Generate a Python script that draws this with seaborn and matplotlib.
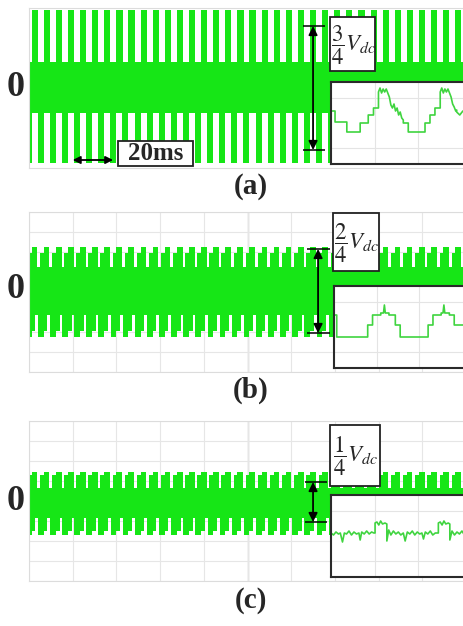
import numpy as np
import pandas as pd
import matplotlib
matplotlib.use("Agg")
import matplotlib.pyplot as plt
import seaborn as sns
from matplotlib.patches import Rectangle

# ---------------- data ----------------
panel_labels = ["(a)", "(b)", "(c)"]
level_labels = [r"$\dfrac{3}{4}V_{dc}$", r"$\dfrac{2}{4}V_{dc}$", r"$\dfrac{1}{4}V_{dc}$"]

# centres of the low-frequency pulses (ms)
pulse_centers_ms = [1.2, 6.7, 12.3, 17.8, 23.4, 28.9, 34.4, 40.0, 45.5, 51.1,
                    56.6, 62.1, 67.7, 73.2, 78.8, 84.3, 89.8, 95.4, 100.9, 106.5,
                    112.0, 117.5, 123.1, 128.6, 134.2, 139.7, 145.2, 150.8, 156.3,
                    161.9, 167.4, 172.9, 178.5, 184.0, 189.6, 195.1]

# envelope levels of the three main waveforms (divisions)
band_top = [1.30, 1.25, 0.65]
band_bottom = [-1.25, -1.15, -0.85]
pulse_top = [3.90, 2.25, 1.45]
pulse_bottom = [-3.75, -2.25, -1.70]
shoulder_top = [1.30, 1.95, 1.30]
shoulder_bottom = [-1.25, -1.95, -1.50]

# level arrows (divisions) and their time position (ms)
arrow_x_ms = [130.0, 132.3, 130.0]
arrow_hi = [3.10, 2.15, 0.95]
arrow_lo = [-3.10, -2.05, -1.05]

# zoomed (inset) waveforms
inset_a_t = [0.0, 1.3, 1.3, 5.1, 5.1, 9.4, 9.4, 12.0, 12.0, 13.7, 13.7, 15.3, 15.3,
             15.8, 16.3, 16.8, 17.3, 17.8, 18.3, 18.8, 19.3, 19.8, 20.3, 20.8, 21.3,
             21.8, 22.3, 22.8, 23.3, 23.3, 24.9, 24.9, 30.3, 30.3, 31.9, 31.9, 33.5,
             33.5, 35.2, 35.2, 35.7, 36.2, 36.7, 37.2, 37.7, 38.2, 38.7, 39.2, 39.7,
             40.2, 40.5, 40.5, 41.5, 42.5, 43.5, 44.8]
inset_a_v = [1.2, 1.2, 0.1, 0.1, -0.9, -0.9, 0.0, 0.0, 0.8, 0.8, 1.5, 1.5, 3.1,
             3.5, 3.0, 3.4, 3.1, 3.4, 3.0, 2.6, 1.8, 1.5, 1.9, 1.2, 1.5,
             0.8, 1.1, 0.5, 0.3, 0.0, 0.0, -0.9, -0.9, 0.0, 0.0, 0.8, 0.8,
             1.5, 1.5, 3.1, 3.5, 3.0, 3.4, 3.1, 3.4, 3.0, 2.6, 1.9, 1.6,
             1.2, 1.3, 1.1, 0.8, 1.2, 0.9, 1.0]

inset_b_t = [0.0, 0.9, 0.9, 11.1, 11.1, 12.7, 12.7, 15.4, 15.4, 16.3, 16.6, 16.9, 18.1,
             18.1, 20.2, 20.2, 21.8, 21.8, 31.0, 31.0, 32.6, 32.6, 35.3, 35.3, 35.9,
             36.2, 36.5, 38.0, 38.0, 39.6, 39.6, 44.8]
inset_b_v = [1.2, 1.2, -1.0, -1.0, 0.2, 0.2, 1.2, 1.2, 1.4, 1.4, 2.2, 1.4, 1.4,
             1.2, 1.2, 0.2, 0.2, -1.0, -1.0, 0.2, 0.2, 1.2, 1.2, 1.4, 1.4,
             2.2, 1.4, 1.4, 1.2, 1.2, 0.2, 0.2]

inset_c_t = [0.0, 0.8, 1.6, 2.4, 3.0, 3.7, 4.3, 5.0, 5.8, 6.6, 7.4, 8.2, 9.0, 9.4,
             9.9, 10.7, 11.5, 12.3, 13.1, 13.8, 14.2, 14.2, 14.8, 15.4, 16.0, 16.6,
             17.4, 18.0, 18.0, 18.6, 19.3, 20.1, 20.9, 21.7, 22.5, 23.3, 23.9, 24.6,
             25.4, 26.2, 27.0, 27.8, 28.6, 29.3, 29.8, 30.4, 31.2, 32.0, 32.8, 33.6,
             34.6, 34.6, 35.2, 35.8, 36.4, 37.0, 37.8, 38.3, 38.3, 39.0, 39.8, 40.6,
             41.4, 42.2, 43.0, 43.8, 44.8]
inset_c_v = [0.3, 0.1, 0.4, 0.2, 0.3, -0.6, 0.3, 0.2, 0.5, 0.1, 0.4, 0.2, 0.3, -0.4,
             0.4, 0.2, 0.5, 0.2, 0.4, 0.3, 0.3, 1.3, 1.4, 1.1, 1.5, 1.2,
             1.3, 1.2, -0.5, 0.6, 0.1, 0.5, 0.2, 0.4, 0.1, 0.3, -0.5, 0.4,
             0.2, 0.5, 0.1, 0.4, 0.2, 0.3, -0.3, 0.4, 0.2, 0.5, 0.1, 0.3,
             0.3, 1.3, 1.4, 1.1, 1.5, 1.2, 1.3, 1.2, -0.4, 0.5, 0.1, 0.4,
             0.2, 0.5, 0.1, 0.4, 0.3]

inset_t = [inset_a_t, inset_b_t, inset_c_t]
inset_v = [inset_a_v, inset_b_v, inset_c_v]

# ---------------- style / layout ----------------
sns.set_style("white")
plt.rcParams['font.family'] = ['Liberation Serif', 'DejaVu Serif']
plt.rcParams['mathtext.fontset'] = 'stix'

GREEN = "#16e616"
LINE_GREEN = "#3fd43f"
W, H = 464, 626
fig = plt.figure(figsize=(W / 100, H / 100), dpi=100)


def px_axes(x0, y0, x1, y1, z=0):
    ax = fig.add_axes([x0 / W, 1 - y1 / H, (x1 - x0) / W, (y1 - y0) / H])
    ax.set_zorder(z)
    return ax


main_boxes = [(29, 8, 466, 168), (29, 212, 466, 372), (29, 421, 466, 581)]
label_boxes = [(330, 17, 375, 71), (333, 213, 379, 271), (330, 425, 380, 486)]
inset_boxes = [(331, 82, 470, 164), (334, 286, 470, 368), (331, 495, 470, 577)]
zero_y = [88, 290, 501]
title_y = [187, 390, 601]
tick_x = [(125.4, 135.5), (127.2, 137.8), (126.3, 136.4)]

pulse_w = [2.8, 2.6, 2.6]
shoulder_w = 3.4

for i in range(3):
    ax = px_axes(*main_boxes[i], z=0)
    ax.set_xlim(0, 200)
    ax.set_ylim(-4, 4)
    ax.set_xticks(np.arange(0, 201, 20))
    ax.set_yticks(np.arange(-4, 5, 1))
    ax.tick_params(length=0, labelbottom=False, labelleft=False)
    for s in ax.spines.values():
        s.set_color("#dcdcdc")
        s.set_linewidth(0.8)
    if i > 0:
        ax.grid(True, color="#e6e6e6", lw=0.8)
        ax.axvline(100, color="#c4c4c4", lw=1.0, zorder=0.5)
    ax.set_axisbelow(True)

    # dense high-frequency band
    ax.fill_between([0, 200], [band_bottom[i]] * 2, [band_top[i]] * 2,
                    color=GREEN, lw=0, zorder=2)
    # low-frequency pulses (with shoulders)
    n = len(pulse_centers_ms)
    ax.bar(pulse_centers_ms, [shoulder_top[i]] * n, width=shoulder_w, bottom=0,
           color=GREEN, lw=0, zorder=2)
    ax.bar(pulse_centers_ms, [shoulder_bottom[i]] * n, width=shoulder_w, bottom=0,
           color=GREEN, lw=0, zorder=2)
    ax.bar(pulse_centers_ms, [pulse_top[i]] * n, width=pulse_w[i], bottom=0,
           color=GREEN, lw=0, zorder=2, align="edge")
    ax.bar(pulse_centers_ms, [pulse_bottom[i]] * n, width=-pulse_w[i], bottom=0,
           color=GREEN, lw=0, zorder=2, align="edge")

    # level arrow
    ax.annotate("", xy=(arrow_x_ms[i], arrow_hi[i]), xytext=(arrow_x_ms[i], arrow_lo[i]),
                arrowprops=dict(arrowstyle="<|-|>", color="black", lw=1.3,
                                mutation_scale=13, shrinkA=0, shrinkB=0),
                zorder=5)
    ax.hlines([arrow_hi[i], arrow_lo[i]], tick_x[i][0], tick_x[i][1],
              color="black", lw=1.1, zorder=5)

    if i == 0:
        ax.annotate("", xy=(20.0, -3.6), xytext=(38.5, -3.6),
                    arrowprops=dict(arrowstyle="<|-|>", color="black", lw=1.3,
                                    mutation_scale=11, shrinkA=0, shrinkB=0),
                    zorder=5)

# overlay for text and boxes
ov = fig.add_axes([0, 0, 1, 1])
ov.set_zorder(1)
ov.set_xlim(0, W)
ov.set_ylim(H, 0)
ov.axis("off")
ov.patch.set_alpha(0)

for i in range(3):
    x0, y0, x1, y1 = label_boxes[i]
    ov.add_patch(Rectangle((x0, y0), x1 - x0, y1 - y0, fc="white", ec="#222222", lw=1.3))
    ov.text((x0 + x1) / 2 + 1, (y0 + y1) / 2 + 1, level_labels[i], fontsize=16.5,
            ha="center", va="center")
    ov.text(16, zero_y[i], "0", fontsize=26, fontweight="bold", ha="center", va="center")
    ov.text(251, title_y[i], panel_labels[i], fontsize=21, fontweight="bold",
            ha="center", va="center")

# 20ms box
ov.add_patch(Rectangle((118, 141), 75, 25, fc="white", ec="#222222", lw=1.3))
ov.text(155.5, 153.5, "20ms", fontsize=18, fontweight="bold", ha="center", va="center")

# insets
for i in range(3):
    ia = px_axes(*inset_boxes[i], z=2)
    ia.set_facecolor("white")
    df = pd.DataFrame({"t": inset_t[i], "v": inset_v[i]})
    sns.lineplot(data=df, x="t", y="v", ax=ia, color=LINE_GREEN, lw=1.2,
                 sort=False, estimator=None)
    ia.set_xlim(0, 44.8)
    ia.set_ylim(-4.1, 4.1)
    ia.set_xticks([14.2, 27.9])
    ia.set_yticks([-2.5, 2.5])
    ia.grid(True, color="#e4e4e4", lw=0.8)
    ia.tick_params(length=0, labelbottom=False, labelleft=False)
    ia.set_xlabel("")
    ia.set_ylabel("")
    for s in ia.spines.values():
        s.set_color("#2a2a2a")
        s.set_linewidth(1.5)

fig.savefig("out.png", dpi=100)
